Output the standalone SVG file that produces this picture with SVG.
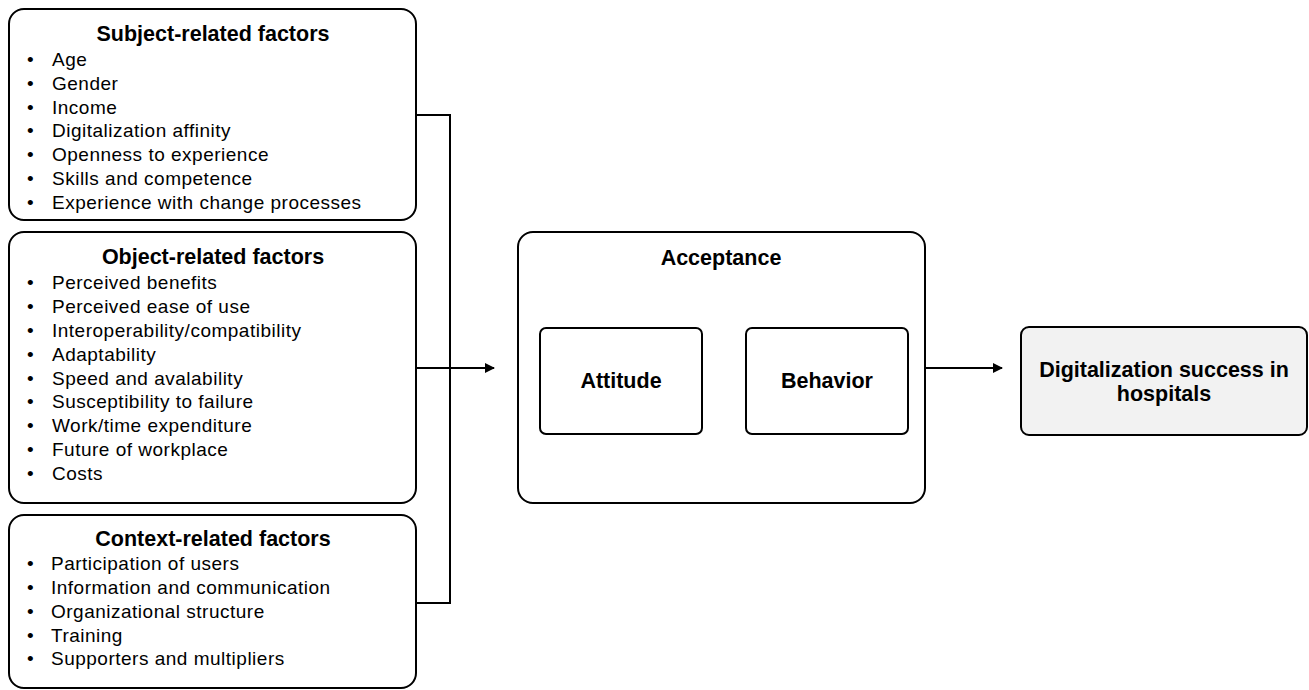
<svg xmlns="http://www.w3.org/2000/svg" width="1309" height="690" viewBox="0 0 1309 690">
<style>
.box{fill:#fff;stroke:#000;stroke-width:2}
.t{font-family:"Liberation Sans",Arial,sans-serif;font-size:19px;letter-spacing:0.5px;fill:#000}
.b{font-weight:bold;text-anchor:middle;font-size:21.5px;letter-spacing:0}
.c{fill:none;stroke:#000;stroke-width:2}
</style>
<defs>
<marker id="arr" markerWidth="10" markerHeight="10" refX="9" refY="5" orient="auto" markerUnits="userSpaceOnUse">
<path d="M0,0 L10,5 L0,10 Z" fill="#000"/>
</marker>
</defs>
<rect width="1309" height="690" fill="#fff"/>
<g id="connectors">
<polyline class="c" points="416,115 450,115 450,603 416,603"/>
<line class="c" x1="416" y1="368" x2="494" y2="368" marker-end="url(#arr)"/>
<line class="c" x1="926" y1="368" x2="1002" y2="368" marker-end="url(#arr)"/>
</g>
<g id="subject">
<rect class="box" x="9" y="9" width="407" height="211" rx="15"/>
<text class="t b" x="213" y="41">Subject-related factors</text>
<g class="t">
<text x="27" y="66">•</text><text x="52" y="66">Age</text>
<text x="27" y="90">•</text><text x="52" y="90">Gender</text>
<text x="27" y="114">•</text><text x="52" y="114">Income</text>
<text x="27" y="137">•</text><text x="52" y="137">Digitalization  affinity</text>
<text x="27" y="161">•</text><text x="52" y="161">Openness to experience</text>
<text x="27" y="185">•</text><text x="52" y="185">Skills and competence</text>
<text x="27" y="209">•</text><text x="52" y="209">Experience with change processes</text>
</g>
</g>
<g id="object">
<rect class="box" x="9" y="232" width="407" height="271" rx="15"/>
<text class="t b" x="213" y="264">Object-related factors</text>
<g class="t">
<text x="27" y="289">•</text><text x="52" y="289">Perceived benefits</text>
<text x="27" y="313">•</text><text x="52" y="313">Perceived ease of use</text>
<text x="27" y="337">•</text><text x="52" y="337">Interoperability/compatibility</text>
<text x="27" y="361">•</text><text x="52" y="361">Adaptability</text>
<text x="27" y="385">•</text><text x="52" y="385">Speed and avalability</text>
<text x="27" y="408">•</text><text x="52" y="408">Susceptibility to failure</text>
<text x="27" y="432">•</text><text x="52" y="432">Work/time expenditure</text>
<text x="27" y="456">•</text><text x="52" y="456">Future of workplace</text>
<text x="27" y="480">•</text><text x="52" y="480">Costs</text>
</g>
</g>
<g id="context">
<rect class="box" x="9" y="515" width="407" height="173" rx="15"/>
<text class="t b" x="213" y="546">Context-related factors</text>
<g class="t">
<text x="27" y="570">•</text><text x="51" y="570">Participation of users</text>
<text x="27" y="594">•</text><text x="51" y="594">Information and communication</text>
<text x="27" y="618">•</text><text x="51" y="618">Organizational structure</text>
<text x="27" y="642">•</text><text x="51" y="642">Training</text>
<text x="27" y="665">•</text><text x="51" y="665">Supporters and multipliers</text>
</g>
</g>
<g id="acceptance">
<rect class="box" x="518" y="232" width="407" height="271" rx="15"/>
<text class="t b" x="721" y="265">Acceptance</text>
</g>
<g id="attitude">
<rect class="box" x="540" y="328" width="162" height="106" rx="6"/>
<text class="t b" x="621" y="388">Attitude</text>
</g>
<g id="behavior">
<rect class="box" x="746" y="328" width="162" height="106" rx="6"/>
<text class="t b" x="827" y="388">Behavior</text>
</g>
<g id="success">
<rect class="box" x="1021" y="327" width="286" height="108" rx="8" style="fill:#f2f2f2"/>
<text class="t b" x="1164" y="377">Digitalization success in</text>
<text class="t b" x="1164" y="401">hospitals</text>
</g>
</svg>
